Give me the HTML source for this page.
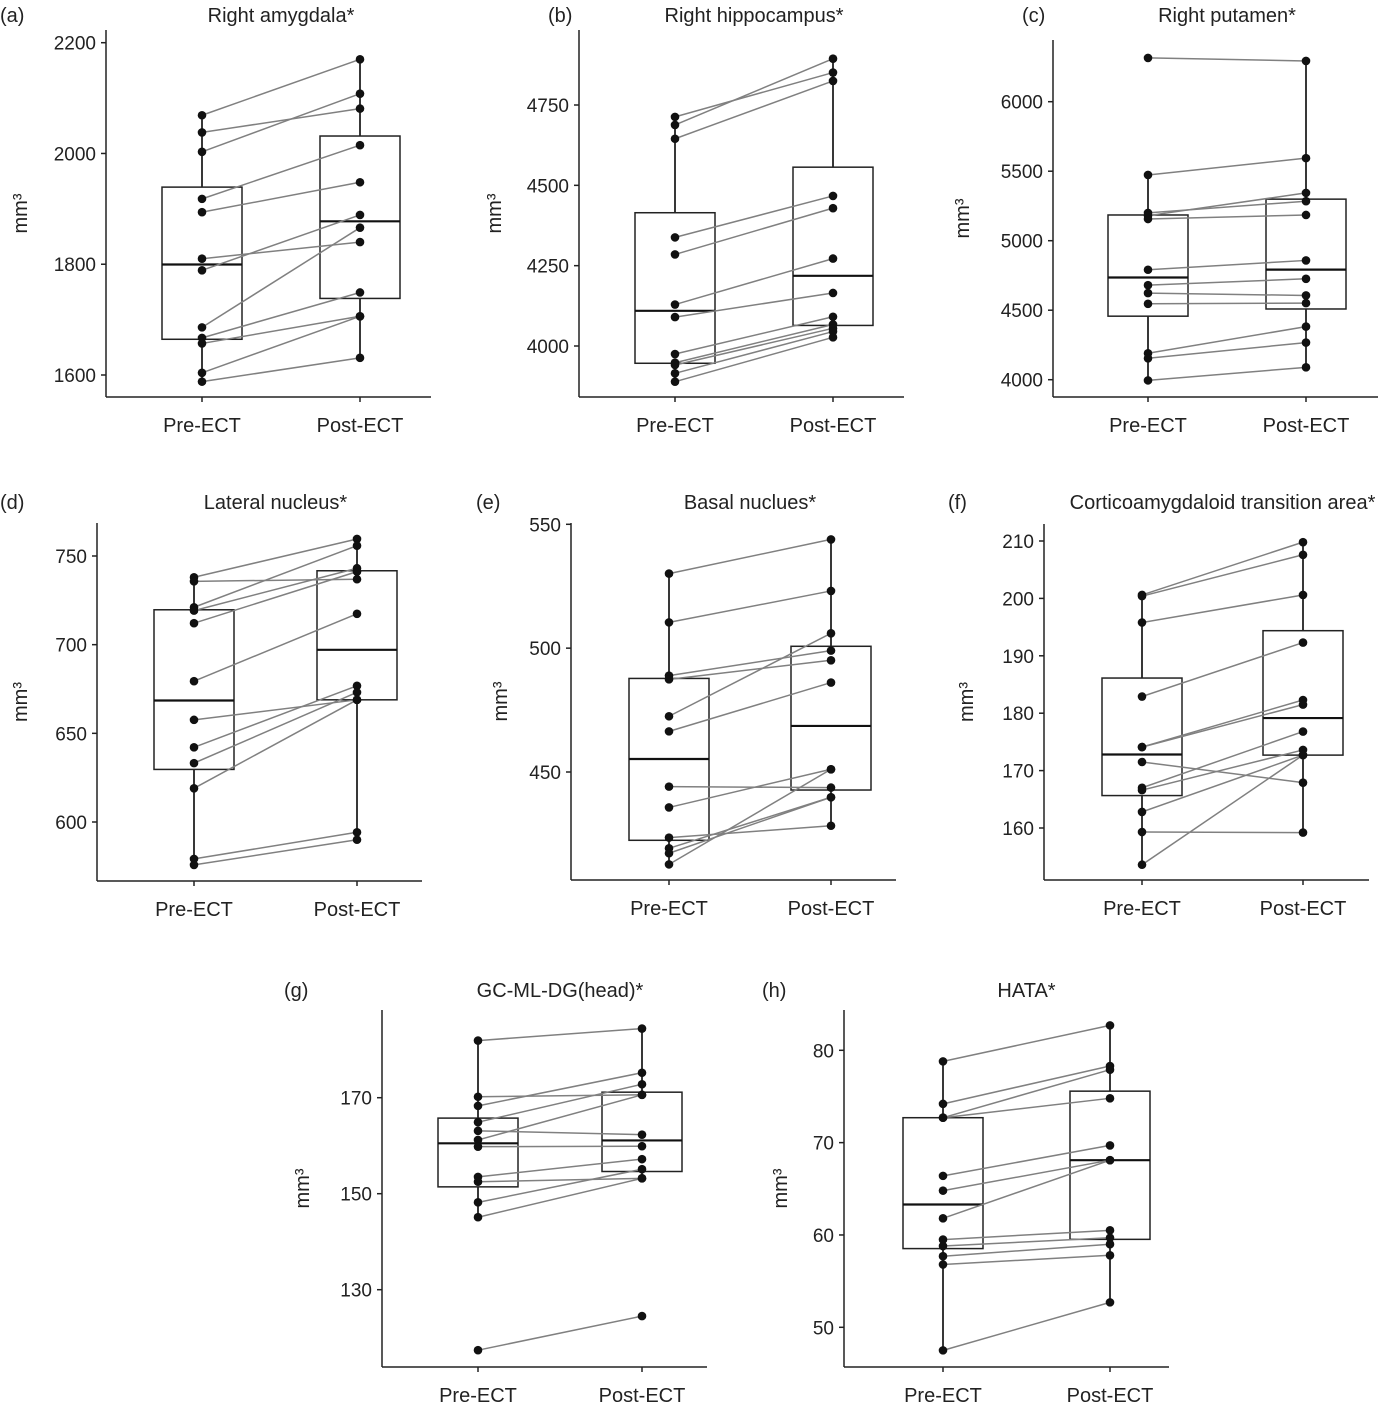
<!DOCTYPE html>
<html><head><meta charset="utf-8"><style>
body{margin:0;background:#fff;}
svg{display:block;font-family:"Liberation Sans",sans-serif;}
</style></head><body>
<svg id="chart" width="1400" height="1405" viewBox="0 0 1400 1405"></svg>
<script>
// ---- data (one array per series) ----
const groups = ["Pre-ECT","Post-ECT"];
const aPre  = [2069,2038,2003,1918,1894,1810,1789,1686,1667,1657,1604,1588];
const aPost = [2170,2081,2108,2015,1948,1840,1889,1866,1749,1706,1706,1631];
const aTicks = [1600,1800,2000,2200];
const bPre  = [4713,4688,4645,4338,4285,4129,4090,3975,3948,3941,3915,3889];
const bPost = [4851,4894,4825,4467,4429,4272,4165,4091,4067,4055,4045,4027];
const bTicks = [4000,4250,4500,4750];
const cPre  = [6315,5473,5200,5180,5156,4791,4680,4623,4546,4190,4154,3995];
const cPost = [6293,5594,5284,5344,5185,4858,4726,4606,4551,4382,4267,4089];
const cTicks = [4000,4500,5000,5500,6000];
const dPre  = [738.0,735.7,721.1,719.2,712.1,679.4,657.6,642.1,633.2,619.0,579.2,575.8];
const dPost = [759.6,736.9,755.8,743.1,741.2,717.4,668.9,676.8,673.1,668.9,594.2,590.0];
const dTicks = [600,650,700,750];
const ePre  = [530.1,510.4,488.9,487.4,472.5,466.4,444.1,435.7,423.5,419.2,417.2,412.7];
const ePost = [543.9,523.1,499.0,495.1,506.0,486.1,443.7,451.1,428.3,439.8,439.8,451.1];
const eTicks = [450,500,550];
const fPre  = [200.6,200.4,195.8,182.9,174.1,174.1,171.5,167.0,166.6,162.8,159.3,153.6];
const fPost = [209.8,207.6,200.6,192.3,182.3,181.5,167.9,176.8,173.6,172.7,159.2,172.7];
const fTicks = [160,170,180,190,200,210];
const gPre  = [181.9,170.2,168.3,164.9,163.1,161.2,159.8,153.5,152.5,148.2,145.1,117.4];
const gPost = [184.4,170.6,175.2,172.8,162.3,170.6,159.9,157.2,153.2,155.1,153.2,124.5];
const gTicks = [130,150,170];
const hPre  = [78.8,74.2,72.7,72.7,66.4,64.8,61.8,59.5,58.8,57.7,56.8,47.5];
const hPost = [82.7,78.3,77.9,74.8,69.7,68.1,68.1,60.5,59.7,59.0,57.8,52.7];
const hTicks = [50,60,70,80];

// ---- layout (pixel geometry only) ----
const panels = [
 {id:"a",title:"Right amygdala*",pre:aPre,post:aPost,ticks:aTicks,ax:106,top:30,bottom:397,px:202,qx:360,v0:1600,y0:375,v1:2200,y1:42.7,lx:0,ly:14,ylx:20},
 {id:"b",title:"Right hippocampus*",pre:bPre,post:bPost,ticks:bTicks,ax:579,top:30,bottom:397,px:675,qx:833,v0:4000,y0:346,v1:4750,y1:105,lx:548,ly:14,ylx:494},
 {id:"c",title:"Right putamen*",pre:cPre,post:cPost,ticks:cTicks,ax:1053,top:40,bottom:397,px:1148,qx:1306,v0:4000,y0:379.7,v1:6000,y1:101.7,lx:1022,ly:14,ylx:962},
 {id:"d",title:"Lateral nucleus*",pre:dPre,post:dPost,ticks:dTicks,ax:97,top:523,bottom:881,px:194,qx:357,v0:600,y0:822,v1:750,y1:556,lx:0,ly:501,ylx:20},
 {id:"e",title:"Basal nuclues*",pre:ePre,post:ePost,ticks:eTicks,ax:571,top:523,bottom:880,px:669,qx:831,v0:450,y0:772,v1:550,y1:524.3,lx:476,ly:501,ylx:500},
 {id:"f",title:"Corticoamygdaloid transition area*",pre:fPre,post:fPost,ticks:fTicks,ax:1044,top:524,bottom:880,px:1142,qx:1303,v0:160,y0:828,v1:210,y1:541,lx:948,ly:501,ylx:966},
 {id:"g",title:"GC-ML-DG(head)*",pre:gPre,post:gPost,ticks:gTicks,ax:382,top:1010,bottom:1367,px:478,qx:642,v0:130,y0:1289.7,v1:170,y1:1097.7,lx:284,ly:989,ylx:302},
 {id:"h",title:"HATA*",pre:hPre,post:hPost,ticks:hTicks,ax:844,top:1010,bottom:1367,px:943,qx:1110,v0:50,y0:1327.3,v1:80,y1:1050.3,lx:762,ly:989,ylx:780}
];

const NS="http://www.w3.org/2000/svg";
const svg=document.getElementById("chart");
function mk(tag,attrs,parent){const e=document.createElementNS(NS,tag);for(const k in attrs)e.setAttribute(k,attrs[k]);(parent||svg).appendChild(e);return e;}
function quant(arr,p){const s=[...arr].sort((x,y)=>x-y);const pos=p*(s.length-1);const lo=Math.floor(pos),hi=Math.ceil(pos);return s[lo]+(s[hi]-s[lo])*(pos-lo);}

panels.forEach(P=>{
  const g=mk("g",{});
  
  
  const y=v=>P.y0+(v-P.v0)*(P.y1-P.y0)/(P.v1-P.v0);
  const xs=[P.px,P.qx];
  const right=P.ax+325;
  const yax=mk("line",{x1:P.ax,y1:P.top,x2:P.ax,y2:P.bottom,stroke:"#222","stroke-width":1.5},g);
  
  
  const xax=mk("line",{x1:P.ax,y1:P.bottom,x2:right,y2:P.bottom,stroke:"#222","stroke-width":1.5},g);
  
  
  P.ticks.forEach(t=>{
    const ty=y(t);
    mk("line",{x1:P.ax-5,y1:ty,x2:P.ax,y2:ty,stroke:"#222","stroke-width":1.5},g);
    const tl=mk("text",{x:P.ax-10,y:ty+7,"text-anchor":"end","font-size":19,fill:"#222"},g);
    tl.textContent=t;
    
    
  });
  groups.forEach((gr,i)=>{
    mk("line",{x1:xs[i],y1:P.bottom,x2:xs[i],y2:P.bottom+5,stroke:"#222","stroke-width":1.5},g);
    const xl=mk("text",{x:xs[i],y:P.bottom+35,"text-anchor":"middle","font-size":20,fill:"#222"},g);
    xl.textContent=gr;
    
    
  });
  const tt=mk("text",{x:(P.px+P.qx)/2,y:P.ly+8,"text-anchor":"middle","font-size":20,fill:"#222"},g);
  tt.textContent=P.title;
  
  
  const lt=mk("text",{x:P.lx,y:P.ly+8,"font-size":20,fill:"#222"},g);
  lt.textContent="("+P.id+")";
  
  
  const cy=(P.top+P.bottom)/2;
  const yl=mk("text",{x:P.ylx,y:cy,"text-anchor":"middle","font-size":20,fill:"#222",transform:`rotate(-90 ${P.ylx} ${cy})`,dy:"7"},g);
  yl.textContent="mm³";
  
  
  [P.pre,P.post].forEach((arr,i)=>{
    const q1=quant(arr,0.25),md=quant(arr,0.5),q3=quant(arr,0.75);
    const iqr=q3-q1;
    const inl=arr.filter(v=>v>=q1-1.5*iqr&&v<=q3+1.5*iqr);
    const mn=Math.min(...inl),mx=Math.max(...inl);
    const x=xs[i],hw=40;
    mk("line",{x1:x,y1:y(mx),x2:x,y2:y(q3),stroke:"#222","stroke-width":1.8},g);
    mk("line",{x1:x,y1:y(q1),x2:x,y2:y(mn),stroke:"#222","stroke-width":1.8},g);
    const bx=mk("rect",{x:x-hw,y:y(q3),width:2*hw,height:y(q1)-y(q3),fill:"none",stroke:"#222","stroke-width":1.5},g);
    
    
    const ml=mk("line",{x1:x-hw,y1:y(md),x2:x+hw,y2:y(md),stroke:"#111","stroke-width":2.2},g);
    
    
  });
  P.pre.forEach((v,k)=>{
    const ln=mk("line",{x1:P.px,y1:y(v),x2:P.qx,y2:y(P.post[k]),stroke:"#808080","stroke-width":1.5},g);
    
    
  });
  [P.pre,P.post].forEach((arr,i)=>{
    arr.forEach(v=>{
      const c=mk("circle",{cx:xs[i],cy:y(v),r:4.3,fill:"#111"},g);
      
      
    });
  });
});
</script>
</body></html>
